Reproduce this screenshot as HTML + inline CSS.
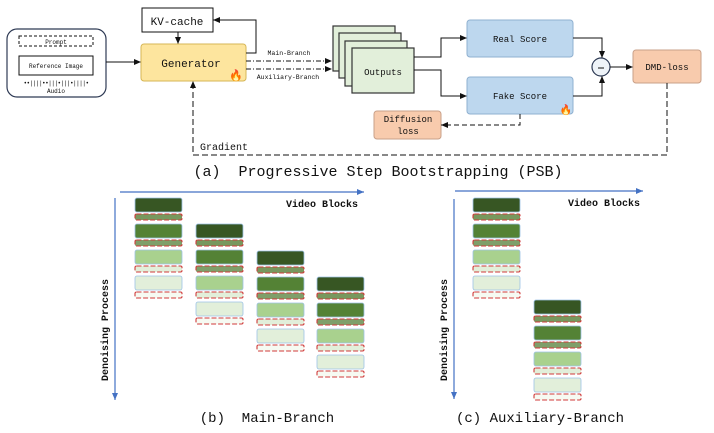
<!DOCTYPE html>
<html><head><meta charset="utf-8"><style>
html,body{margin:0;padding:0;background:#fff;}
svg{display:block;}
text{font-family:"Liberation Mono",monospace;fill:#111;}
</style></head><body>
<svg width="714" height="433" viewBox="0 0 714 433" xmlns="http://www.w3.org/2000/svg">
<defs>
<marker id="a" markerWidth="8" markerHeight="8" refX="7" refY="4" orient="auto" markerUnits="userSpaceOnUse"><path d="M0,1 L7,4 L0,7 z" fill="#111"/></marker>
<marker id="b" markerWidth="8" markerHeight="8" refX="7" refY="4" orient="auto" markerUnits="userSpaceOnUse"><path d="M0,1 L7,4 L0,7 z" fill="#4472c4"/></marker>
<g id="blk">
<rect x="0" y="0" width="47" height="14" rx="2" fill="#375623" stroke="#9dc3e6" stroke-width="0.8"/>
<rect x="0" y="16" width="47" height="6" rx="1.5" fill="#78985e" stroke="#d03a3a" stroke-width="1.1" stroke-dasharray="5,2"/>
<rect x="0" y="26" width="47" height="14" rx="2" fill="#548235" stroke="#9dc3e6" stroke-width="0.8"/>
<rect x="0" y="42" width="47" height="6" rx="1.5" fill="#7f9f6a" stroke="#d03a3a" stroke-width="1.1" stroke-dasharray="5,2"/>
<rect x="0" y="52" width="47" height="14" rx="2" fill="#a9d18e" stroke="#9dc3e6" stroke-width="0.8"/>
<rect x="0" y="68" width="47" height="6" rx="1.5" fill="#e2efda" stroke="#d03a3a" stroke-width="1.1" stroke-dasharray="5,2"/>
<rect x="0" y="78" width="47" height="14" rx="2" fill="#e2efda" stroke="#9dc3e6" stroke-width="0.8"/>
<rect x="0" y="94" width="47" height="6" rx="1.5" fill="#f6faf2" stroke="#d03a3a" stroke-width="1.1" stroke-dasharray="5,2"/>
</g>
</defs>

<rect x="7" y="29" width="99" height="68" rx="10" fill="#fff" stroke="#2f3b55" stroke-width="1.2"/>
<rect x="19" y="36" width="74" height="10" fill="none" stroke="#111" stroke-dasharray="3,2"/>
<text x="56" y="44" font-size="6" text-anchor="middle">Prompt</text>
<rect x="19" y="56" width="74" height="19" fill="none" stroke="#111"/>
<text x="56" y="68" font-size="6" text-anchor="middle">Reference Image</text>
<text x="56" y="85" font-size="6" text-anchor="middle" letter-spacing="-0.5">••||||••|||•|||•||||•</text>
<text x="56" y="93" font-size="6" text-anchor="middle">Audio</text>
<line x1="106" y1="62" x2="141" y2="62" stroke="#111" marker-end="url(#a)"/>

<rect x="142" y="8" width="71" height="24" fill="#fff" stroke="#111"/>
<text x="177" y="25" font-size="11" text-anchor="middle">KV-cache</text>
<line x1="178" y1="32" x2="178" y2="44" stroke="#111" marker-end="url(#a)"/>
<rect x="141" y="44" width="105" height="37" rx="3" fill="#fde59e" stroke="#d6b656"/>
<text x="191" y="67" font-size="11" text-anchor="middle">Generator</text>
<text x="236" y="79" font-size="11" text-anchor="middle" style="fill:#f05a22">🔥</text>
<polyline points="246,53 256,53 256,20 213,20" fill="none" stroke="#111" marker-end="url(#a)"/>
<line x1="246" y1="61" x2="332" y2="61" stroke="#111" stroke-dasharray="5,2,1,2" marker-end="url(#a)"/>
<line x1="246" y1="69" x2="332" y2="69" stroke="#111" stroke-dasharray="5,2,1,2" marker-end="url(#a)"/>
<text x="289" y="55" font-size="6.5" text-anchor="middle">Main-Branch</text>
<text x="288" y="79" font-size="6.5" text-anchor="middle">Auxiliary-Branch</text>

<rect x="333" y="26" width="62" height="45" fill="#e2efda" stroke="#333" stroke-width="1.2"/>
<rect x="339" y="33" width="62" height="45" fill="#e2efda" stroke="#333" stroke-width="1.2"/>
<rect x="345" y="41" width="62" height="45" fill="#e2efda" stroke="#333" stroke-width="1.2"/>
<rect x="352" y="48" width="62" height="45" fill="#e2efda" stroke="#333" stroke-width="1.2"/>
<text x="383" y="75" font-size="9" text-anchor="middle">Outputs</text>
<polyline points="414,57 441,57 441,38 467,38" fill="none" stroke="#111" marker-end="url(#a)"/>
<polyline points="414,70 441,70 441,96 467,96" fill="none" stroke="#111" marker-end="url(#a)"/>

<rect x="467" y="20" width="106" height="37" rx="3" fill="#bdd7ee" stroke="#8fb0d0"/>
<text x="520" y="42" font-size="9" text-anchor="middle">Real Score</text>
<rect x="467" y="77" width="106" height="37" rx="3" fill="#bdd7ee" stroke="#8fb0d0"/>
<text x="520" y="99" font-size="9" text-anchor="middle">Fake Score</text>
<text x="566" y="113" font-size="10" text-anchor="middle" style="fill:#f05a22">🔥</text>

<polyline points="573,38 602,38 602,58" fill="none" stroke="#111" marker-end="url(#a)"/>
<polyline points="573,96 602,96 602,76" fill="none" stroke="#111" marker-end="url(#a)"/>
<circle cx="601" cy="67" r="9" fill="#eef3f8" stroke="#2f3b55" stroke-width="1.2"/>
<line x1="598" y1="68" x2="604" y2="68" stroke="#111"/>
<line x1="610" y1="67" x2="633" y2="67" stroke="#111" marker-end="url(#a)"/>
<rect x="633" y="50" width="68" height="33" rx="3" fill="#f8cbad" stroke="#c9a089"/>
<text x="667" y="70" font-size="9" text-anchor="middle">DMD-loss</text>

<rect x="374" y="111" width="67" height="28" rx="3" fill="#f8cbad" stroke="#c9a089"/>
<text x="408" y="122" font-size="9" text-anchor="middle">Diffusion</text>
<text x="408" y="134" font-size="9" text-anchor="middle">loss</text>
<polyline points="520,114 520,125 441,125" fill="none" stroke="#111" stroke-dasharray="5,3" marker-end="url(#a)"/>

<polyline points="667,83 667,155 193,155 193,81" fill="none" stroke="#111" stroke-dasharray="6,3" marker-end="url(#a)"/>
<text x="200" y="150" font-size="10">Gradient</text>

<text x="378" y="176" font-size="15" text-anchor="middle" xml:space="preserve">(a)  Progressive Step Bootstrapping (PSB)</text>

<line x1="120" y1="192" x2="364" y2="192" stroke="#4472c4" stroke-width="1.2" marker-end="url(#b)"/>
<line x1="115" y1="198" x2="115" y2="400" stroke="#4472c4" stroke-width="1.2" marker-end="url(#b)"/>
<text x="358" y="207" font-size="10" font-weight="bold" text-anchor="end">Video Blocks</text>
<text transform="translate(108,330) rotate(-90)" font-size="10" font-weight="bold" text-anchor="middle">Denoising Process</text>
<use href="#blk" x="135" y="198"/>
<use href="#blk" x="196" y="224"/>
<use href="#blk" x="257" y="251"/>
<use href="#blk" x="317" y="277"/>
<text x="267" y="422" font-size="14" text-anchor="middle" xml:space="preserve">(b)  Main-Branch</text>

<line x1="455" y1="191" x2="643" y2="191" stroke="#4472c4" stroke-width="1.2" marker-end="url(#b)"/>
<line x1="454" y1="199" x2="454" y2="399" stroke="#4472c4" stroke-width="1.2" marker-end="url(#b)"/>
<text x="640" y="206" font-size="10" font-weight="bold" text-anchor="end">Video Blocks</text>
<text transform="translate(447,330) rotate(-90)" font-size="10" font-weight="bold" text-anchor="middle">Denoising Process</text>
<use href="#blk" x="473" y="198"/>
<use href="#blk" x="534" y="300"/>
<text x="540" y="422" font-size="14" text-anchor="middle">(c) Auxiliary-Branch</text>
</svg>
</body></html>
